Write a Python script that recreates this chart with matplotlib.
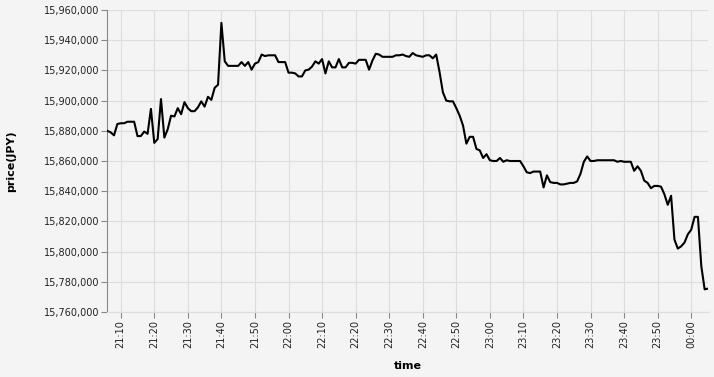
import pandas as pd
import matplotlib
matplotlib.use('Agg')
import matplotlib.pyplot as plt
import matplotlib.dates as mdates
from matplotlib.ticker import FuncFormatter

# one price per minute, 21:06 -> 00:05
start_time = '2021-01-01 21:06'
prices = [
    15880000, 15879000, 15877000, 15884500, 15885000, 15885000, 15886000, 15886000, 15886000, 15876500,
    15876500, 15879500, 15878000, 15894500, 15872000, 15874500, 15901000, 15875500, 15881000, 15890000,
    15889500, 15895000, 15891000, 15899000, 15895000, 15893000, 15893000, 15895500, 15899500, 15896000,
    15902500, 15900500, 15908500, 15910500, 15951500, 15926000, 15923000, 15923000, 15923000, 15923000,
    15925500, 15923000, 15925500, 15920500, 15924500, 15925500, 15930500, 15929500, 15930000, 15930000,
    15930000, 15925500, 15925500, 15925500, 15918500, 15918500, 15918000, 15916000, 15916000, 15920000,
    15920500, 15922500, 15926000, 15924500, 15927500, 15918000, 15926000, 15922000, 15922000, 15927500,
    15922000, 15922000, 15925000, 15925000, 15924500, 15927000, 15927000, 15927000, 15920500, 15926500,
    15931000, 15930500, 15929000, 15929000, 15929000, 15929000, 15930000, 15930000, 15930500, 15929500,
    15929000, 15931500, 15930000, 15929500, 15929000, 15930000, 15930000, 15928000, 15930500, 15919000,
    15905500, 15900000, 15899500, 15899500, 15895000, 15890000, 15883500, 15871500, 15876000, 15876000,
    15868000, 15867000, 15862000, 15864500, 15860500, 15860000, 15860000, 15862000, 15859500, 15860500,
    15860000, 15860000, 15860000, 15860000, 15856500, 15852500, 15852000, 15853000, 15853000, 15853000,
    15842500, 15850500, 15846000, 15845500, 15845500, 15844500, 15844500, 15845000, 15845500, 15845500,
    15846500, 15851500, 15859500, 15863000, 15860000, 15860000, 15860500, 15860500, 15860500, 15860500,
    15860500, 15860500, 15859500, 15860000, 15859500, 15859500, 15859500, 15853500, 15856500, 15853500,
    15847000, 15845500, 15842000, 15843500, 15843500, 15843000, 15838000, 15831000, 15837000, 15808000,
    15802000, 15803500, 15806000, 15811500, 15814500, 15823000, 15823000, 15790500, 15775000, 15775500,
]
y_min, y_max = 15760000, 15960000

times = pd.date_range(start_time, periods=len(prices), freq='min')

bg = '#f4f4f4'
fig = plt.figure(figsize=(7.14, 3.77), dpi=100, facecolor=bg)
ax = fig.add_axes([107.3 / 714, 1 - 312 / 377, (708 - 107.3) / 714, 302 / 377])
ax.set_facecolor(bg)

ax.plot(times, prices, color='black', lw=1.5, zorder=3)

ax.set_xlim(times[0], times[-1])
ax.set_ylim(y_min, y_max)
ax.set_yticks(range(y_min, y_max + 1, 20000))
ax.yaxis.set_major_formatter(FuncFormatter(lambda v, p: f'{int(v):,}'))
ax.xaxis.set_major_locator(mdates.MinuteLocator(byminute=range(0, 60, 10)))
ax.xaxis.set_major_formatter(mdates.DateFormatter('%H:%M'))
plt.setp(ax.get_xticklabels(), rotation=90)

ax.grid(True, color='#dddddd', lw=0.8, zorder=0)
ax.set_axisbelow(True)
for s in ['top', 'right']:
    ax.spines[s].set_visible(False)
ax.spines['left'].set_color('#888888')
ax.spines['bottom'].set_color('#dddddd')
ax.tick_params(axis='both', colors='#888888', labelcolor='#222222', labelsize=7, length=4, width=0.8, pad=2)

ax.set_xlabel('time', fontsize=8, fontweight='bold', labelpad=9)
ax.set_ylabel('price(JPY)', fontsize=8, fontweight='bold', labelpad=20)

fig.savefig('out.png', dpi=100, facecolor=bg)
